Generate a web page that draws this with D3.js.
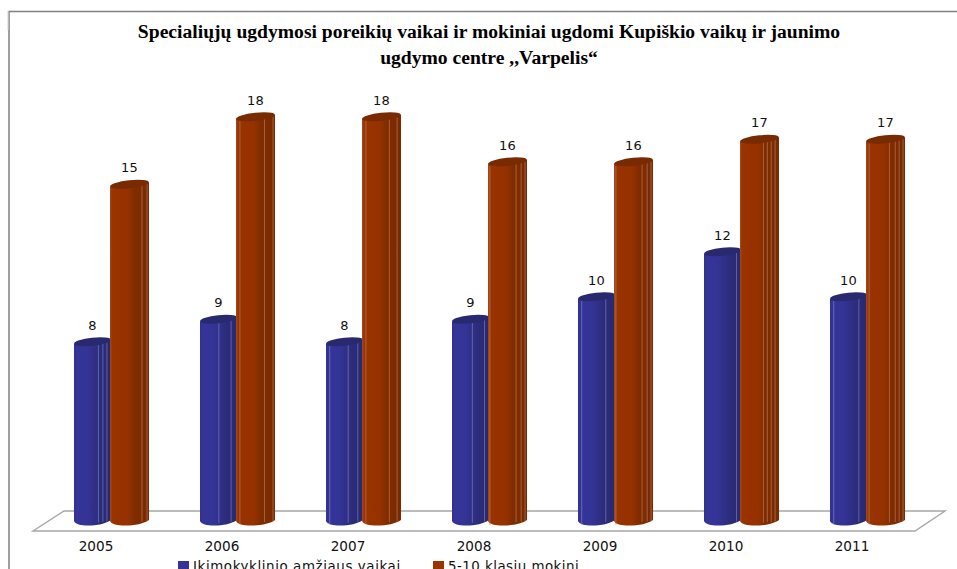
<!DOCTYPE html>
<html>
<head>
<meta charset="utf-8">
<script src="https://cdn.jsdelivr.net/npm/d3@7"></script>
<style>
html,body{margin:0;padding:0;background:#fff;overflow:hidden}
svg{display:block}
</style>
</head>
<body>
<svg id="chart" width="957" height="569"></svg>
<script>
const years = ["2005","2006","2007","2008","2009","2010","2011"];
const seriesNames = ["Ikimokyklinio amžiaus vaikai","5-10 klasių mokini"];
const preschool = [8,9,8,9,10,12,10];
const pupils = [15,18,18,16,16,17,17];
const titleLines = ["Specialiųjų ugdymosi poreikių vaikai ir mokiniai ugdomi Kupiškio vaikų ir jaunimo","ugdymo centre ,,Varpelis“"];

// decorative facet lines seen on each cylinder (fraction of the bar's width)
const preschoolFacets = [[.66,.78,.89],[.51,.84],[.1,.6,.86],[.55,.88],[.1,.75],[.88],[.1,.78]];
const pupilsFacets = [[.82,.95],[.1,.73,.95],[.1,.7,.9],[.05,.72,.85,.95],[.05,.72,.85,.95],[.6,.7,.8,.9],[.08,.6,.75,.85,.95]];

const svg = d3.select("#chart");
const W = 957, H = 569;
const frontL = 33, frontR = 915, backL = 64, backR = 945, floorFront = 531, floorBack = 511;

const x = d3.scaleBand().domain(years).range([frontL, frontR]);
const y = d3.scaleLinear().domain([0, 18]).range([524, 119]);
const inner = d3.scaleBand().domain([0, 1]).range([-22, 52]);

const defs = svg.append("defs");
function grad(id, stops){
  const g = defs.append("linearGradient").attr("id", id).attr("x1",0).attr("x2",1).attr("y1",0).attr("y2",0);
  stops.forEach(s => g.append("stop").attr("offset", s[0]).attr("stop-color", s[1]));
}
grad("gBlue", [[0,"#31318f"],[.08,"#353599"],[.35,"#343497"],[.75,"#2b2b78"],[1,"#29296f"]]);
grad("gRed", [[0,"#a04a20"],[.06,"#993300"],[.45,"#963200"],[.65,"#7f2c00"],[1,"#7a2a00"]]);

// frame
svg.append("path").attr("d", `M9,${H} V11.5 H${W}`).attr("fill","none").attr("stroke","#808080").attr("stroke-width",1.5);
svg.append("line").attr("x1",8).attr("x2",8).attr("y1",11).attr("y2",30).attr("stroke","#d0d0d0").attr("stroke-width",1);

// title
svg.append("g").selectAll("text").data(titleLines).join("text")
  .attr("x", 489).attr("y", (d,i) => 38 + i*26)
  .attr("text-anchor","middle")
  .attr("font-family","'Liberation Serif',serif").attr("font-weight","bold").attr("font-size",19.6)
  .attr("fill","#000").text(d => d);

// floor
svg.append("path")
  .attr("d", `M${frontL},${floorFront} L${backL},${floorBack} H${backR} L${frontR},${floorFront} Z`)
  .attr("fill","#fff").attr("stroke","#a6a6a6").attr("stroke-width",1.4);

// cylinders
const series = [
  {values: preschool, facets: preschoolFacets, fill: "url(#gBlue)", cap: "#29296f", line: "#7c7cc0", dx: 0, extra: 0},
  {values: pupils, facets: pupilsFacets, fill: "url(#gRed)", cap: "#782a00", line: "#bd7a58", dx: -1, extra: 2}
];
const rise = 4;
series.forEach((s, si) => {
  const bars = svg.append("g").selectAll("g").data(years).join("g");
  const left = (d) => x(d) + x.bandwidth()/2 + inner(si) + s.dx;
  const w = inner.bandwidth() + s.extra;
  bars.append("path")
    .attr("fill", s.fill)
    .attr("d", (d,i) => {
      const l = left(d), t = y(s.values[i]), base = y(0) - 3;
      const p = d3.path();
      p.moveTo(l, t);
      p.lineTo(l, base);
      p.bezierCurveTo(l + 2, base + 7, l + w - 8, base + 5.5, l + w, base - 1);
      p.lineTo(l + w, t - rise);
      p.closePath();
      return p.toString();
    });
  bars.each(function(d,i){
    const l = left(d), t = y(s.values[i]), base = y(0);
    d3.select(this).selectAll("line.f").data(s.facets[i]).join("line")
      .attr("class","f")
      .attr("x1", f => l + f*w).attr("x2", f => l + f*w)
      .attr("y1", f => t + 2.5 - f*rise*1.3).attr("y2", f => base + 1 - f*4)
      .attr("stroke", s.line).attr("stroke-width", .8).attr("stroke-opacity", .85);
  });
  bars.append("ellipse")
    .attr("cx", d => left(d) + w/2)
    .attr("cy", (d,i) => y(s.values[i]) - 2.2)
    .attr("rx", w/2).attr("ry", 4)
    .attr("transform", (d,i) => `rotate(-6 ${left(d) + w/2} ${y(s.values[i]) - 2.2})`)
    .attr("fill", s.cap);
  bars.append("text")
    .attr("x", d => left(d) + w/2 )
    .attr("y", (d,i) => y(s.values[i]) - 14.5)
    .attr("text-anchor","middle")
    .attr("font-family","'DejaVu Sans',sans-serif").attr("font-size",13).attr("letter-spacing",0.3)
    .attr("fill","#111").text((d,i) => s.values[i]);
});

// x axis
const axis = d3.axisBottom(x).tickSize(0).tickPadding(0);
const ax = svg.append("g").attr("transform", `translate(0,${floorFront + 8})`).call(axis);
ax.select(".domain").remove();
ax.selectAll("text").attr("font-family","'DejaVu Sans',sans-serif").attr("font-size",13.6).attr("fill","#111").attr("dy","0.9em");

// legend (cut by the picture's lower edge, as in the reference)
const legendX = [178, 433];
const legendSpacing = [0.6, 0.47];
const legend = svg.append("g").selectAll("g").data(seriesNames).join("g");
legend.append("rect").attr("x",(d,i)=>legendX[i]).attr("y",561).attr("width",11).attr("height",11)
  .attr("fill",(d,i)=> i ? "#993300" : "#333399");
legend.append("text").attr("x",(d,i)=>legendX[i]+15).attr("y",571)
  .attr("font-family","'DejaVu Sans',sans-serif").attr("font-size",13.4).attr("letter-spacing",(d,i)=>legendSpacing[i])
  .attr("fill","#111").text(d=>d);
</script>
</body>
</html>
